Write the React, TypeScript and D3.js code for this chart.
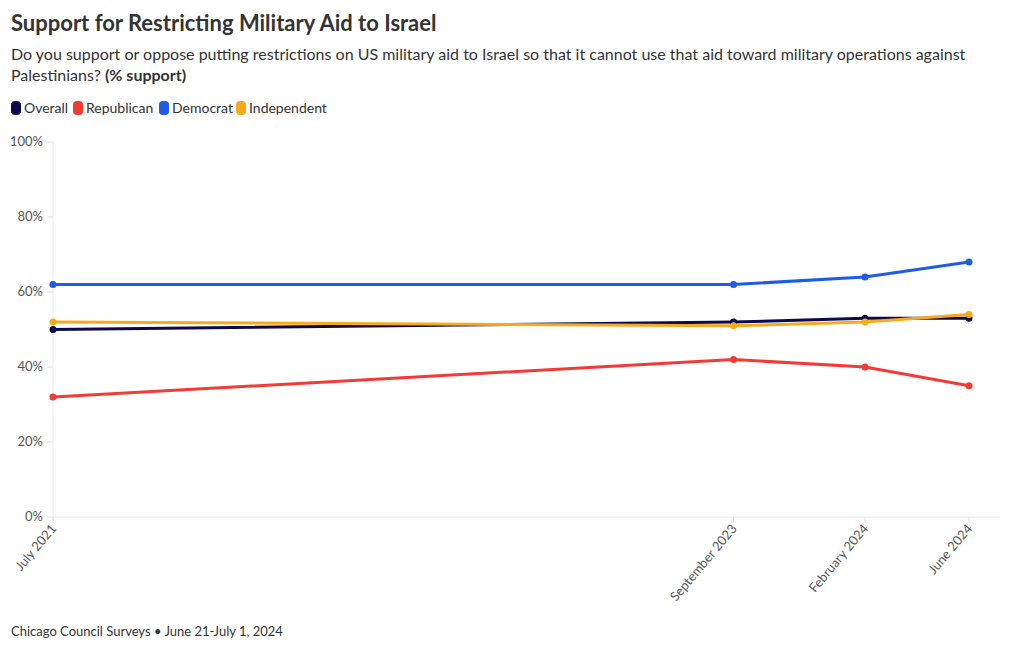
import React from "react";
import * as d3 from "d3";

const dates = ["2021-07-01", "2023-09-01", "2024-02-01", "2024-06-01"];
const dateLabels = ["July 2021", "September 2023", "February 2024", "June 2024"];
const seriesNames = ["Overall", "Republican", "Democrat", "Independent"];
const seriesColors = ["#0b0a4f", "#f33b35", "#1d5ce8", "#f6aa1c"];
const overall = [50, 52, 53, 53];
const republican = [32, 42, 40, 35];
const democrat = [62, 62, 64, 68];
const independent = [52, 51, 52, 54];
const yTicks = [0, 20, 40, 60, 80, 100];

const FONT = "Lato, 'Source Sans Pro', sans-serif";

export default function App() {
  const W = 1020, H = 650;
  const parse = d3.timeParse("%Y-%m-%d");
  const xs = dates.map((d) => parse(d) as Date);
  const x = d3.scaleTime().domain([xs[0], xs[3]]).range([53, 969]);
  const y = d3.scaleLinear().domain([0, 100]).range([517, 142]);
  const values = [overall, republican, democrat, independent];
  const line = d3.line<number>().x((_, i) => x(xs[i])).y((v) => y(v));

  const legendWidths = [62, 86, 77, 90];
  let lx = 11;
  const legendPos = legendWidths.map((w) => { const p = lx; lx += w; return p; });

  return (
    <svg width={W} height={H} style={{ position: "absolute", left: 0, top: 0 }} fontFamily={FONT}>
      <rect width={W} height={H} fill="#fff" />
      <text x={11} y={31} fontSize={22} fontWeight={700} fill="#333">Support for Restricting Military Aid to Israel</text>
      <text x={11} y={60} fontSize={16} fill="#333">Do you support or oppose putting restrictions on US military aid to Israel so that it cannot use that aid toward military operations against</text>
      <text x={11} y={81} fontSize={16} fill="#333">Palestinians? <tspan fontWeight={700}>(% support)</tspan></text>
      {seriesNames.map((n, i) => (
        <g key={n} transform={`translate(${legendPos[i]},101)`}>
          <rect x={0} y={0} width={10} height={14} rx={4} fill={seriesColors[i]} />
          <text x={13} y={12} fontSize={14} fill="#333">{n}</text>
        </g>
      ))}
      {/* gridlines */}
      <line x1={53} x2={53} y1={142} y2={517} stroke="#ececec" />
      <line x1={53} x2={1000} y1={517} y2={517} stroke="#e6e6e6" />
      {yTicks.map((t) => (
        <g key={t}>
          <line x1={47} x2={53} y1={y(t)} y2={y(t)} stroke="#ddd" />
          <text x={43} y={y(t) + 4} fontSize={13} fill="#555" textAnchor="end">{t}%</text>
        </g>
      ))}
      {xs.map((d, i) => (
        <g key={i} transform={`translate(${x(d)},517)`}>
          <line y1={0} y2={6} stroke="#ddd" />
          <text transform="translate(4,12) rotate(-50)" fontSize={13} fill="#555" textAnchor="end">{dateLabels[i]}</text>
        </g>
      ))}
      {values.map((vals, si) => (
        <g key={si}>
          <path d={line(vals) || ""} fill="none" stroke={seriesColors[si]} strokeWidth={3} />
          {vals.map((v, i) => (
            <circle key={i} cx={x(xs[i])} cy={y(v)} r={3.5} fill={seriesColors[si]} />
          ))}
        </g>
      ))}
      <text x={11} y={636} fontSize={13} fill="#333">Chicago Council Surveys • June 21-July 1, 2024</text>
    </svg>
  );
}
